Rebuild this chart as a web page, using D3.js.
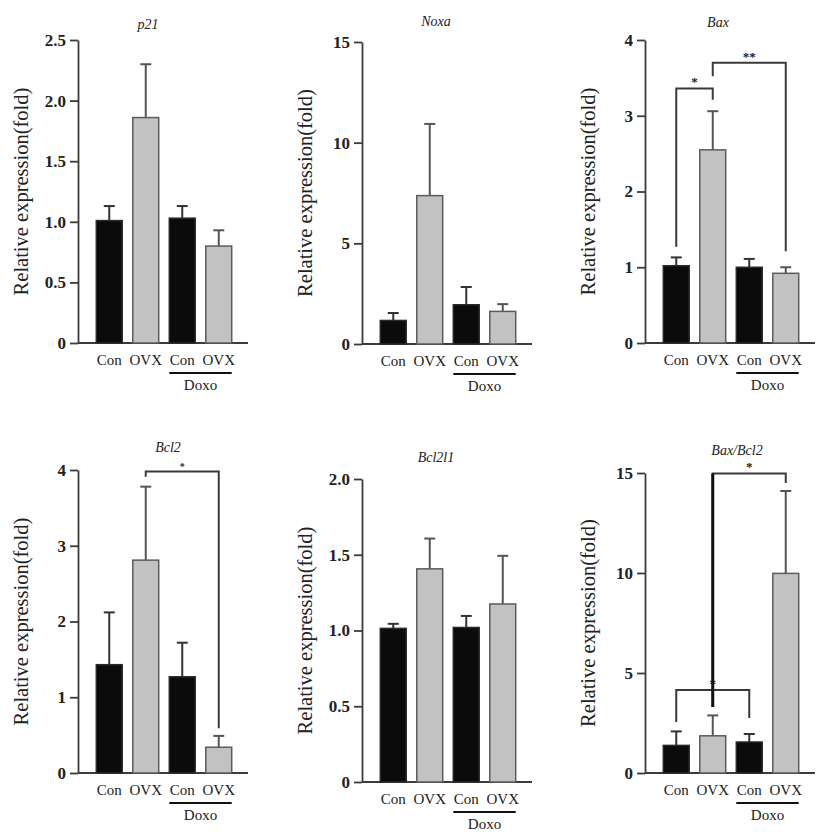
<!DOCTYPE html>
<html>
<head>
<meta charset="utf-8">
<script src="https://cdn.jsdelivr.net/npm/d3@7/dist/d3.min.js"></script>
<style>
  html, body { margin: 0; padding: 0; background: #fff; }
  svg { display: block; }
  svg text { font-family: "Liberation Serif", "DejaVu Serif", serif; }
</style>
</head>
<body>
<svg id="chart" width="827" height="835"></svg>
<script>
// ---------------- DATA ----------------
const categories = ["Con", "OVX", "Con", "OVX"];
const groupLabel = "Doxo";
const yLabel = "Relative expression(fold)";
const titles = ["p21", "Noxa", "Bax", "Bcl2", "Bcl2l1", "Bax/Bcl2"];
const yMax = [2.5, 15, 4, 4, 2.0, 15];
const tickValues = [
  [0, 0.5, 1.0, 1.5, 2.0, 2.5],
  [0, 5, 10, 15],
  [0, 1, 2, 3, 4],
  [0, 1, 2, 3, 4],
  [0, 0.5, 1.0, 1.5, 2.0],
  [0, 5, 10, 15]
];
const tickLabels = [
  ["0", "0.5", "1.0", "1.5", "2.0", "2.5"],
  ["0", "5", "10", "15"],
  ["0", "1", "2", "3", "4"],
  ["0", "1", "2", "3", "4"],
  ["0", "0.5", "1.0", "1.5", "2.0"],
  ["0", "5", "10", "15"]
];
const p21Mean = [1.01, 1.86, 1.03, 0.80];
const p21Err = [0.12, 0.44, 0.10, 0.13];
const noxaMean = [1.17, 7.37, 1.95, 1.62];
const noxaErr = [0.37, 3.56, 0.88, 0.36];
const baxMean = [1.02, 2.55, 1.00, 0.92];
const baxErr = [0.11, 0.51, 0.11, 0.08];
const bcl2Mean = [1.43, 2.81, 1.27, 0.34];
const bcl2Err = [0.69, 0.97, 0.45, 0.15];
const bcl2l1Mean = [1.014, 1.407, 1.02, 1.175];
const bcl2l1Err = [0.03, 0.20, 0.076, 0.318];
const ratioMean = [1.38, 1.86, 1.55, 9.98];
const ratioErr = [0.70, 1.02, 0.40, 4.12];
const means = [p21Mean, noxaMean, baxMean, bcl2Mean, bcl2l1Mean, ratioMean];
const errs = [p21Err, noxaErr, baxErr, bcl2Err, bcl2l1Err, ratioErr];
// significance brackets: panel, from bar, to bar, bracket level, left leg end, right leg end, label
const sigPanel = [2, 2, 3, 5, 5];
const sigFrom = [0, 1, 1, 0, 1];
const sigTo = [1, 3, 3, 2, 3];
const sigLevel = [3.36, 3.70, 3.98, 4.15, 14.98];
const sigLeftEnd = [1.27, 3.52, 3.91, 2.55, 3.3];
const sigRightEnd = [3.21, 1.21, 0.59, 2.75, 14.5];
const sigLabel = ["*", "**", "*", "*", "*"];

// ---------------- LAYOUT ----------------
const axisX = [78, 362, 645, 78, 362, 645];
const axisTop = [40, 42, 40, 470, 479, 473];
const axisBottom = [343, 344, 343, 773, 782, 773];
const titleX = [148, 436, 718, 168, 436, 737];
const titleY = [29, 26, 27, 452, 462, 455];
const sigThick = [false, false, false, false, true];
const sigStarSize = [13, 13, 10, 13, 13];

const svg = d3.select("#chart");
const serif = '"Liberation Serif", "DejaVu Serif", serif';
const barFill = ["#0b0b0b", "#c2c2c2", "#0b0b0b", "#c2c2c2"];
const barStroke = ["#2a2a2a", "#5c5c5c", "#2a2a2a", "#5c5c5c"];
const errColor = ["#333", "#555", "#333", "#555"];
const axisColor = "#3c3c3c";

titles.forEach((t, p) => {
  const x0 = axisX[p];
  const g = svg.append("g");
  const y = d3.scaleLinear().domain([0, yMax[p]]).range([axisBottom[p], axisTop[p]]);
  const x = d3.scaleBand().domain(d3.range(categories.length))
    .range([x0 + 13, x0 + 159]).paddingInner(0.29).paddingOuter(0.145);

  // y axis
  const ax = g.append("g").attr("transform", `translate(${x0},0)`)
    .call(d3.axisLeft(y).tickValues(tickValues[p])
      .tickFormat((d, i) => tickLabels[p][i]).tickSize(8).tickSizeOuter(0).tickPadding(4));
  ax.attr("font-family", null).attr("font-size", null);
  ax.select(".domain").attr("stroke", axisColor).attr("stroke-width", 1.8);
  ax.selectAll(".tick line").attr("stroke", axisColor).attr("stroke-width", 1.8);
  ax.selectAll(".tick text").style("font-family", serif).attr("font-weight", "bold")
    .attr("font-size", 17).attr("fill", "#222");

  // x baseline
  g.append("line").attr("x1", x0).attr("x2", x0 + 170)
    .attr("y1", y(0)).attr("y2", y(0))
    .attr("stroke", axisColor).attr("stroke-width", 1.8);

  // bars
  const data = means[p].map((m, i) => ({ i, m, e: errs[p][i] }));
  data.forEach(d => {
    const cx = x(d.i) + x.bandwidth() / 2;
    g.append("line").attr("x1", cx).attr("x2", cx)
      .attr("y1", y(d.m)).attr("y2", y(d.m + d.e))
      .attr("stroke", errColor[d.i]).attr("stroke-width", 2);
    g.append("line").attr("x1", cx - 5.5).attr("x2", cx + 5.5)
      .attr("y1", y(d.m + d.e)).attr("y2", y(d.m + d.e))
      .attr("stroke", errColor[d.i]).attr("stroke-width", 2);
  });
  g.selectAll("rect.bar").data(data).join("rect").attr("class", "bar")
    .attr("x", d => x(d.i)).attr("width", x.bandwidth())
    .attr("y", d => y(d.m)).attr("height", d => y(0) - y(d.m))
    .attr("fill", d => barFill[d.i]).attr("stroke", d => barStroke[d.i])
    .attr("stroke-width", 1.5);

  // category labels
  categories.forEach((c, i) => {
    g.append("text").attr("x", x(i) + x.bandwidth() / 2).attr("y", y(0) + 22)
      .attr("text-anchor", "middle").style("font-family", serif).attr("font-size", 15)
      .attr("fill", "#222").text(c);
  });
  const gx1 = x(2), gx2 = x(3) + x.bandwidth();
  g.append("line").attr("x1", gx1).attr("x2", gx2)
    .attr("y1", y(0) + 30).attr("y2", y(0) + 30).attr("stroke", "#111").attr("stroke-width", 2);
  g.append("text").attr("x", (gx1 + gx2) / 2).attr("y", y(0) + 47)
    .attr("text-anchor", "middle").style("font-family", serif).attr("font-size", 15)
    .attr("fill", "#222").text(groupLabel);

  // title
  g.append("text").attr("x", titleX[p]).attr("y", titleY[p])
    .attr("text-anchor", "middle").style("font-family", serif).attr("font-style", "italic")
    .attr("font-size", 14).attr("fill", "#222").text(t);

  // y label
  const cy = (axisTop[p] + axisBottom[p]) / 2;
  g.append("text").attr("transform", `translate(${x0 - 57},${cy}) rotate(-90)`)
    .attr("text-anchor", "middle").attr("dominant-baseline", "central")
    .style("font-family", serif).attr("font-size", 20.5).attr("fill", "#222").text(yLabel);

  // significance brackets
  sigPanel.forEach((sp, k) => {
    if (sp !== p) return;
    const xa = x(sigFrom[k]) + x.bandwidth() / 2;
    const xb = x(sigTo[k]) + x.bandwidth() / 2;
    const yl = y(sigLevel[k]);
    g.append("path")
      .attr("d", `M${xa},${y(sigLeftEnd[k])}V${yl}H${xb}V${y(sigRightEnd[k])}`)
      .attr("fill", "none").attr("stroke", "#3a3a3a").attr("stroke-width", 2);
    if (sigThick[k]) {
      g.append("line").attr("x1", xa).attr("x2", xa).attr("y1", yl).attr("y2", y(sigLeftEnd[k]))
        .attr("stroke", "#111").attr("stroke-width", 3);
    }
    g.append("text").attr("x", (xa + xb) / 2).attr("y", yl - 2)
      .attr("text-anchor", "middle").style("font-family", serif).attr("font-weight", "bold")
      .attr("font-size", sigStarSize[k]).attr("fill", "#222").text(sigLabel[k]);
  });
});
</script>
</body>
</html>
